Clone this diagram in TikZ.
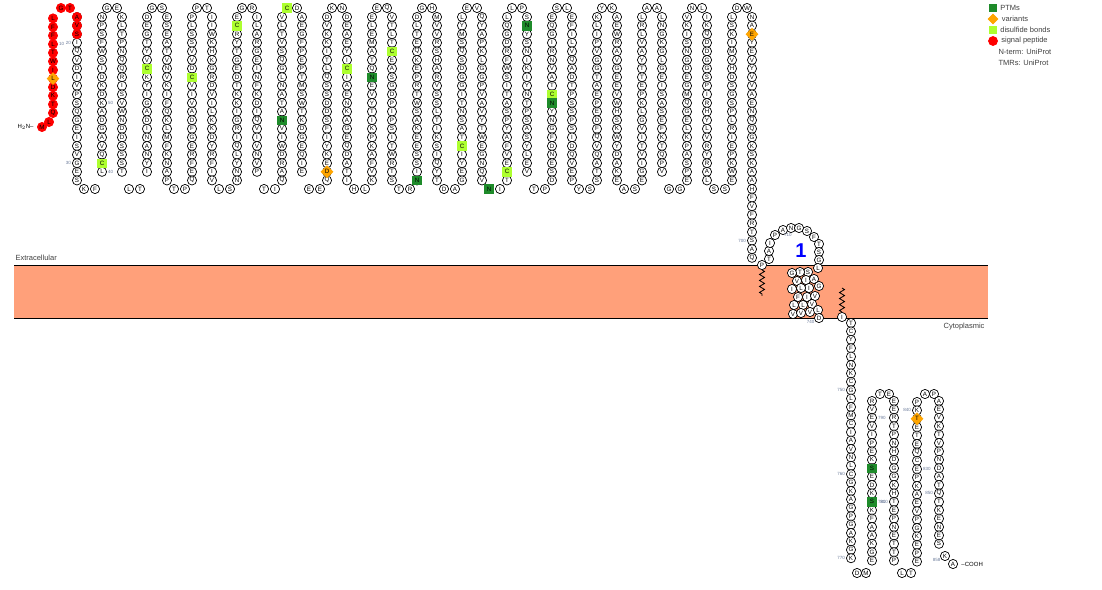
\documentclass[tikz,border=0pt]{standalone}
\usepackage{fontspec}
\setmainfont{Liberation Sans}
\usepackage{tikz}
\usepackage{xcolor}
\usetikzlibrary{shapes.geometric,decorations.pathmorphing}
\definecolor{ptm-green}{HTML}{1E8B2A}
\definecolor{ss-green}{HTML}{ADFF2F}
\definecolor{var-orange}{HTML}{FFA500}
\definecolor{membrane}{HTML}{FFA07A}
\definecolor{num-grey}{HTML}{6A7A99}
\tikzset{
    res/.style = {draw=black, fill=white, circle, line width=0.7pt, inner sep=0pt, minimum size=9.2pt, font=\fontsize{6.2}{6.2}\selectfont},
    res-sig/.style = {res, draw=red, fill=red},
    res-ptm/.style = {res, rectangle, draw=ptm-green, fill=ptm-green, minimum size=8.6pt},
    res-ss/.style = {res, rectangle, draw=ss-green, fill=ss-green, minimum size=8.6pt},
    res-var/.style = {res, diamond, draw=var-orange, fill=var-orange, minimum size=12pt},
    res-num/.style = {font=\fontsize{4.5}{4.5}\selectfont, text=num-grey, inner sep=1pt},
    side-label/.style = {font=\fontsize{7.5}{8}\selectfont, text=black!75},
    legend-text/.style = {font=\fontsize{7.5}{8}\selectfont, text=black!75, anchor=west},
    lipid/.style = {decorate, decoration={zigzag, segment length=6pt, amplitude=2.5pt}, line width=0.8pt},
}
\newcommand{\rescol}[4][8.6]{\foreach \aa [count=\i from 0] in {#4} {\node[res] (#2-\i) at (#3,17+#1*\i) {\aa};}}
\newcommand{\topturn}[4]{\node[res] (#1-t1) at (#2+5,8) {#3}; \node[res] (#1-t2) at (#2+15,8) {#4};}
\newcommand{\botturn}[4]{\node[res] (#1-b1) at (#2+7,189) {#3}; \node[res] (#1-b2) at (#2+18,189) {#4};}

\begin{document}
\begin{tikzpicture}[x=1pt, y=-1pt]
\useasboundingbox (0,0) rectangle (1102,589);

% membrane
\fill[membrane] (14,265) rectangle (988,318);
\draw[thick] (14,265) -- (988,265) (14,318) -- (988,318);
\node[side-label, anchor=south west] (extra) at (12,264) {Extracellular};
\node[side-label, anchor=north east] (cyto) at (988,320) {Cytoplasmic};

% signal peptide
\node[res-sig] (m1) at (42,127) {M};
\node[anchor=east, font=\fontsize{6}{6}\selectfont] (nterm) at (m1.west) {H$_2$N--};
\node[res-sig] (m2) at (49,122) {L};
\foreach \aa [count=\i from 0] in {Q,T,K,D,L,I,W,T,L,F,F,L}
  \node[res-sig] (sig-\i) at (53,113-8.6*\i) {\aa};
\node[res-sig] (sig-g) at (61,8) {G};
\node[res-sig] (sig-t) at (70,8) {T};
\node[res-var] at (sig-4) {L};

% extracellular columns
\rescol{c0}{77}{A,V,S,I,Q,V,D,I,V,P,S,Q,G,E,I,S,V,G,E,S}
\botturn{c0}{77}{K}{F}
\rescol{c1}{102}{N,P,S,F,W,S,I,D,K,D,K,A,D,G,A,V,Q,C,L}
\topturn{c1}{102}{G}{E}
\rescol{c2}{122}{K,L,T,P,N,Q,Q,R,I,S,V,W,N,D,D,S,S,S,T}
\botturn{c2}{122}{L}{T}
\rescol{c3}{147}{D,E,G,T,Y,V,C,K,Y,I,G,A,D,I,N,A,N,Y,I}
\topturn{c3}{147}{G}{S}
\rescol{c4}{167}{E,S,E,A,T,V,N,V,K,I,F,Q,K,L,M,F,K,N,A,P}
\botturn{c4}{167}{T}{P}
\rescol{c5}{192}{P,L,S,S,V,V,D,C,V,I,V,A,D,F,G,E,R,F,E,Q}
\topturn{c5}{192}{P}{T}
\rescol{c6}{212}{I,I,W,K,H,K,G,R,D,V,I,L,K,K,D,Y,R,F,I,V}
\botturn{c6}{212}{L}{S}
\rescol{c7}{237}{E,C,R,Y,T,G,E,D,T,K,K,I,G,R,I,Q,L,Y,N,N}
\topturn{c7}{237}{G}{R}
\rescol{c8}{257}{I,L,A,R,G,E,I,N,F,K,D,I,Q,V,I,V,N,V,P}
\botturn{c8}{257}{T}{I}
\rescol{c9}{282}{V,L,T,V,S,Q,G,L,N,A,T,A,N,V,I,W,D,R,A,Q}
\topturn{c9}{282}{C}{D}
\rescol{c10}{302}{A,E,G,F,P,E,P,T,M,S,W,T,K,D,G,E,Q,I,E}
\botturn{c10}{302}{E}{E}
\rescol{c11}{327}{D,V,K,K,I,T,L,Q,S,S,D,D,S,F,I,Y,K,E,D,Q}
\topturn{c11}{327}{K}{N}
\rescol{c12}{347}{D,E,A,E,Y,I,C,I,A,E,N,K,A,G,E,Q,D,A,T,I}
\botturn{c12}{347}{H}{L}
\rescol{c13}{372}{E,L,E,M,A,T,Q,N,E,V,Y,T,I,K,P,K,A,F,V,K}
\topturn{c13}{372}{E}{Q}
\rescol{c14}{392}{V,T,L,T,C,E,A,S,G,D,P,I,P,S,I,T,W,R,T,S}
\botturn{c14}{392}{T}{R}
\rescol{c15}{417}{D,L,T,E,Q,K,E,P,R,T,W,S,A,K,E,E,S,S,I,N}
\topturn{c15}{417}{G}{H}
\rescol{c16}{437}{M,V,V,R,S,H,A,R,V,S,S,L,T,I,K,S,I,Q,Y,T}
\botturn{c16}{437}{D}{A}
\rescol{c17}{462}{L,Y,M,S,Q,S,D,G,G,I,T,N,S,A,T,C,I,Y,E,G}
\topturn{c17}{462}{E}{V}
\rescol{c18}{482}{Q,Y,A,P,K,L,G,G,P,V,A,V,Y,T,W,E,G,N,Q,V}
\botturn{c18}{482}{N}{I}
\rescol{c19}{507}{L,Q,G,D,R,F,W,S,I,T,A,S,P,Y,A,F,V,E,C,T}
\topturn{c19}{507}{L}{P}
\rescol{c20}{527}{S,N,Y,S,N,I,K,I,Y,N,T,P,S,A,S,Y,L,E,V}
\botturn{c20}{527}{T}{P}
\rescol{c21}{552}{E,Q,G,I,R,N,V,A,T,C,N,Y,N,G,F,D,N,E,S,D}
\topturn{c21}{552}{S}{L}
\rescol{c22}{572}{E,F,I,L,V,Q,A,D,T,P,S,S,P,S,I,D,Q,V,E,P}
\botturn{c22}{572}{Y}{S}
\rescol{c23}{597}{K,L,I,P,V,G,G,T,A,E,P,E,D,F,Q,V,Q,A,T,S}
\topturn{c23}{597}{Y}{K}
\rescol{c24}{617}{A,E,W,R,A,V,G,E,E,V,W,H,S,K,W,Y,D,A,K,E}
\botturn{c24}{617}{A}{S}
\rescol{c25}{642}{L,R,L,V,A,Y,T,T,E,P,K,L,G,V,I,T,V,I,G,E}
\topturn{c25}{642}{A}{A}
\rescol{c26}{662}{L,N,G,K,G,L,G,E,I,S,A,S,E,F,K,T,Q,P,V}
\botturn{c26}{662}{G}{G}
\rescol{c27}{687}{V,K,I,S,N,G,D,E,G,M,Q,G,E,L,K,P,A,S,P,E}
\topturn{c27}{687}{N}{L}
\rescol{c28}{707}{I,K,Q,D,D,G,G,S,P,I,R,H,Y,L,V,R,Y,R,A,L}
\botturn{c28}{707}{S}{S}
\rescol{c29}{732}{L,S,K,I,M,V,H,D,S,G,S,P,L,R,I,E,P,K,W,E}
\topturn{c29}{732}{D}{W}
\rescol{c30}{752}{N,A,E,Y,E,V,Y,V,V,A,E,N,Q,Q,G,K,S,K,A,A,H,F,V,F,R,T,S,A,Q}

% marked residues
\foreach \nd/\aa in {c0-0/A,c0-1/V,c0-2/S} \node[res-sig] at (\nd) {\aa};
\foreach \nd in {c1-17,c3-6,c5-7,c7-1,c9-t1,c12-6,c14-4,c17-15,c19-18,c21-9} \node[res-ss] at (\nd) {C};
\foreach \nd in {c9-12,c13-7,c15-19,c18-b1,c20-1,c21-10} \node[res-ptm] at (\nd) {N};
\node[res-var] at (c11-18) {D};
\node[res-var] at (c30-2) {E};

% loop and transmembrane helix
\foreach \x/\y/\aa [count=\i] in {762/265/P,769/259/T,769/251/A,770/243/I,775/235/P,783/230/A,791/228/N,799/228/G,807/231/S,814/237/F,819/244/T,819/252/S,819/260/G,818/268/L,
  808/272/S,800/272/T,792/273/G,797/281/V,806/280/I,814/279/A,819/286/G,809/288/I,801/288/L,792/289/I,
  798/297/F,807/297/I,815/296/V,812/304/V,803/305/L,794/305/L,793/314/V,801/313/V,810/312/V,818/310/L,819/318/D}
  \node[res] (tm-\i) at (\x,\y) {\aa};
\node[text=blue, font=\fontsize{20}{20}\bfseries\rmfamily] (helix) at (801,251) {1};
\draw[lipid] (tm-1.south) -- ++(0,26);
\node[res] (ci) at (842,317) {I};
\draw[lipid] (ci.north) -- ++(0,-24);

% cytoplasmic tail
\foreach \aa [count=\i from 0] in {T,C,Y,F,L,N,K,C,G,L,F,M,C,I,A,V,N,L,C,G,K,A,G,P,G,A,K,G,K}
  \node[res] (k1-\i) at (851,323+8.4*\i) {\aa};
\node[res] (k1-b1) at (857,573) {D};
\node[res] (k1-b2) at (866,573) {M};
\foreach \aa [count=\i from 0] in {R,V,E,V,I,P,E,K,S,E,D,K,S,K,F,A,A,K,G,E}
  \node[res] (k2-\i) at (872,401+8.4*\i) {\aa};
\node[res] (k2-t1) at (880,394) {T};
\node[res] (k2-t2) at (889,394) {E};
\foreach \aa [count=\i from 0] in {E,E,R,T,P,N,H,D,G,G,K,H,T,E,P,N,E,T,T,P}
  \node[res] (k3-\i) at (894,401+8.4*\i) {\aa};
\node[res] (k3-b1) at (902,573) {L};
\node[res] (k3-b2) at (911,573) {T};
\foreach \aa [count=\i from 0] in {P,K,T,E,T,E,Q,C,E,P,K,A,E,V,P,G,K,E,P,E}
  \node[res] (k4-\i) at (917,402+8.4*\i) {\aa};
\node[res] (k4-t1) at (925,394) {A};
\node[res] (k4-t2) at (934,394) {P};
\foreach \aa [count=\i from 0] in {A,E,V,K,T,V,P,N,D,A,T,Q,T,K,E,N,E,S}
  \node[res] (k5-\i) at (939,401+8.4*\i) {\aa};
\node[res] (k5-k) at (945,556) {K};
\node[res] (k5-a) at (953,564) {A};
\node[anchor=west, font=\fontsize{6}{6}\selectfont] (cterm) at (k5-a.east) {--COOH};
\node[res-ptm] at (k2-8) {S};
\node[res-ptm] at (k2-12) {S};
\node[res-var] at (k4-2) {T};

% residue numbers
\node[res-num, anchor=west] at (sig-8.east) {10};
\node[res-num, anchor=east] at (c0-3.west) {20};
\node[res-num, anchor=east] at (c0-17.west) {30};
\node[res-num, anchor=west] at (c1-18.east) {40};
\node[res-num, anchor=west] at (c1-10.east) {50};
\node[res-num, anchor=east] at (tm-35.south west) {740};
\node[res-num, anchor=east] at (k1-8.west) {750};
\node[res-num, anchor=east] at (k1-18.west) {760};
\node[res-num, anchor=east] at (k1-28.west) {770};
\node[res-num, anchor=west] at (k2-12.east) {780};
\node[res-num, anchor=west] at (k2-2.east) {790};
\node[res-num, anchor=east] at (k3-12.west) {810};
\node[res-num, anchor=west] at (k4-8.east) {830};
\node[res-num, anchor=east] at (k4-1.west) {840};
\node[res-num, anchor=east] at (k5-11.west) {850};
\node[res-num, anchor=east] at (k5-k.south west) {858};
\node[res-num, anchor=east] at (c30-26.west) {700};
\node[res-num, anchor=west] at (tm-6.south) {710};

% legend
\node[res-ptm, minimum size=7pt] (lg-ptm) at (993,8) {};
\node[legend-text] at (lg-ptm.east) {PTMs};
\node[res-var, minimum size=10pt] (lg-var) at (993,19) {};
\node[legend-text] at (lg-var.east) {variants};
\node[res-ss, minimum size=7pt] (lg-ss) at (993,30) {};
\node[legend-text] at (lg-ss.east) {disulfide bonds};
\node[res-sig, minimum size=9pt] (lg-sig) at (993,41) {};
\node[legend-text] at (lg-sig.east) {signal peptide};
\node[legend-text] (lg-n) at (995,52) {N-term: UniProt};
\node[legend-text] (lg-t) at (995,63) {TMRs: UniProt};
\end{tikzpicture}
\end{document}
